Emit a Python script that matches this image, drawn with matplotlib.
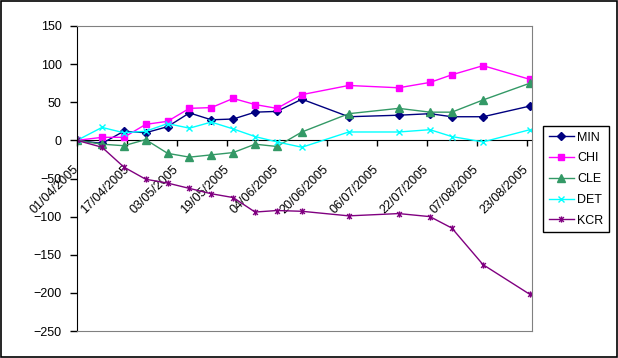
import matplotlib
matplotlib.use("Agg")
import matplotlib.pyplot as plt
import matplotlib.dates as mdates
from matplotlib.patches import Rectangle
from matplotlib.path import Path
import pandas as pd

dates = pd.to_datetime(["2005-04-01", "2005-04-09", "2005-04-16", "2005-04-23",
                        "2005-04-30", "2005-05-07", "2005-05-14", "2005-05-21",
                        "2005-05-28", "2005-06-04", "2005-06-12", "2005-06-27",
                        "2005-07-13", "2005-07-23", "2005-07-30", "2005-08-09",
                        "2005-08-24"])
MIN = [0, -4, 12, 10, 18, 36, 27, 28, 37, 38, 54, 31, 33, 35, 31, 31, 45]
CHI = [0, 4, 4, 21, 25, 42, 43, 55, 47, 42, 60, 72, 69, 76, 86, 98, 80]
CLE = [0, -5, -7, 1, -17, -22, -19, -16, -5, -8, 11, 35, 42, 37, 37, 53, 75]
DET = [0, 17, 10, 12, 22, 16, 24, 15, 5, -2, -9, 11, 11, 14, 5, -2, 14]
KCR = [0, -9, -35, -51, -56, -63, -70, -75, -94, -92, -93, -99, -96, -100, -115, -163, -202]

tick_dates = pd.to_datetime(["2005-04-01", "2005-04-17", "2005-05-03", "2005-05-19",
                             "2005-06-04", "2005-06-20", "2005-07-06", "2005-07-22",
                             "2005-08-07", "2005-08-23"])

plt.rcParams["font.family"] = ["Liberation Sans", "DejaVu Sans"]

# excel style star marker: x with a vertical bar
star = Path([(-1, -1), (1, 1), (-1, 1), (1, -1), (0, -1.3), (0, 1.3)],
            [Path.MOVETO, Path.LINETO, Path.MOVETO, Path.LINETO, Path.MOVETO, Path.LINETO])

fig = plt.figure(figsize=(6.18, 3.58), dpi=100)
ax = fig.add_axes([77/618, 1 - 331/358, (532 - 77)/618, (331 - 26)/358])

ax.plot(dates, MIN, color="#000080", marker="D", ms=4, lw=1, label="MIN")
ax.plot(dates, CHI, color="#FF00FF", marker="s", ms=5, lw=1, label="CHI")
ax.plot(dates, CLE, color="#339966", marker="^", ms=5.5, lw=1, label="CLE")
ax.plot(dates, DET, color="#00FFFF", marker="x", ms=4.5, mew=1, lw=1, label="DET")
ax.plot(dates, KCR, color="#800080", marker=star, ms=4.5, mew=1, lw=1, label="KCR")

ax.set_ylim(-250, 150)
ax.set_yticks(range(-250, 151, 50))
ax.set_xlim(pd.Timestamp("2005-04-01"), pd.Timestamp("2005-08-24 16:00"))

# grey frame around the plot area
for side in ["top", "right", "bottom"]:
    ax.spines[side].set_color("#808080")
ax.spines["left"].set_color("black")
ax.tick_params(axis="x", bottom=False, labelbottom=False)
ax.tick_params(axis="y", direction="out", length=5, width=1, labelsize=9, pad=6)

# x axis crosses at y = 0
ylo, yhi = ax.get_ylim()
xax = ax.secondary_xaxis((0 - ylo) / (yhi - ylo))
for side in ["top", "bottom"]:
    xax.spines[side].set_color("black")
xax.xaxis.set_ticks_position("bottom")
xax.set_xticks(mdates.date2num(tick_dates))
xax.xaxis.set_major_formatter(mdates.DateFormatter("%d/%m/%Y"))
xax.tick_params(axis="x", which="both", bottom=True, labelbottom=True, top=False,
                labeltop=False, direction="out", length=4, width=1, labelsize=9,
                pad=15.5)
for lab in xax.get_xticklabels():
    lab.set_rotation(45)
    lab.set_ha("right")
    lab.set_va("center")
    lab.set_rotation_mode("anchor")

leg = fig.legend(loc="upper left", bbox_to_anchor=(543/618, 1 - 126/358), fontsize=9,
                 frameon=True, fancybox=False, edgecolor="black", framealpha=1,
                 handlelength=2.0, handletextpad=0.3, labelspacing=0.7, borderpad=0.45,
                 borderaxespad=0)
leg.get_frame().set_linewidth(1)

fig.add_artist(Rectangle((0.5/618, 1.5/358), 616/618, 356/358, transform=fig.transFigure,
                         fill=False, edgecolor="black", lw=1.2))

fig.savefig("out.png", dpi=100)
